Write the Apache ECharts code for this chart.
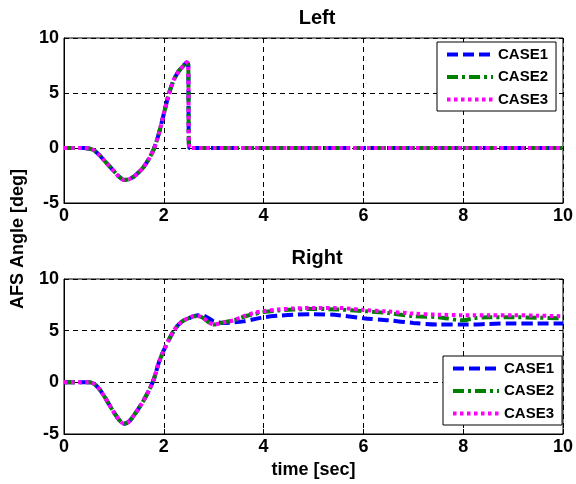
<!DOCTYPE html>
<html><head><meta charset="utf-8">
<script src="https://cdn.jsdelivr.net/npm/echarts@6/dist/echarts.min.js"></script>
<style>html,body{margin:0;padding:0;background:#fff}#c{width:576px;height:484px}</style>
</head><body><div id="c"></div>
<script>
const seriesNames = ['CASE1', 'CASE2', 'CASE3'];
const xTicks = [0, 2, 4, 6, 8, 10];
const yTicks = [-5, 0, 5, 10];

const tLeft = [0, 0.4, 0.5, 0.6, 0.7, 0.8, 0.9, 1.0, 1.1, 1.2, 1.3, 1.4, 1.5, 1.6, 1.7, 1.8, 1.9, 2.0, 2.1, 2.2, 2.3, 2.4, 2.46, 2.49, 2.51, 3, 4, 5, 6, 7, 8, 9, 10];
const left1 = [0, 0, -0.05, -0.2, -0.6, -1.1, -1.6, -2.1, -2.6, -2.9, -2.85, -2.6, -2.2, -1.7, -1.0, -0.1, 1.3, 3.1, 4.9, 6.2, 7.0, 7.5, 7.8, 7.6, 0, 0, 0, 0, 0, 0, 0, 0, 0];
const left2 = [0, 0, -0.05, -0.2, -0.6, -1.1, -1.6, -2.1, -2.6, -2.9, -2.85, -2.6, -2.2, -1.7, -1.0, -0.1, 1.3, 3.1, 4.9, 6.2, 7.0, 7.5, 7.8, 7.6, 0, 0, 0, 0, 0, 0, 0, 0, 0];
const left3 = [0, 0, -0.05, -0.2, -0.6, -1.1, -1.6, -2.1, -2.6, -2.9, -2.85, -2.6, -2.2, -1.7, -1.0, -0.1, 1.3, 3.1, 4.9, 6.2, 7.0, 7.5, 7.8, 7.6, 0, 0, 0, 0, 0, 0, 0, 0, 0];

const tRight = [0, 0.5, 0.6, 0.7, 0.8, 0.9, 1.0, 1.1, 1.2, 1.3, 1.4, 1.5, 1.6, 1.7, 1.8, 1.9, 2.0, 2.1, 2.2, 2.3, 2.4, 2.5, 2.6, 2.7, 2.8, 2.9, 3.0, 3.2, 3.4, 3.6, 3.8, 4.0, 4.3, 4.6, 5.0, 5.5, 6.0, 6.5, 7.0, 7.5, 8.0, 8.2, 8.5, 9.0, 9.5, 10];
const right1 = [0, 0, -0.15, -0.6, -1.3, -2.1, -2.9, -3.6, -4.0, -3.8, -3.2, -2.5, -1.7, -0.8, 0.3, 1.9, 3.1, 4.1, 5.0, 5.6, 6.0, 6.2, 6.4, 6.5, 6.45, 6.2, 5.9, 5.75, 5.8, 5.9, 6.1, 6.3, 6.45, 6.55, 6.6, 6.5, 6.2, 6.0, 5.75, 5.6, 5.6, 5.6, 5.65, 5.7, 5.7, 5.7];
const right2 = [0, 0, -0.15, -0.6, -1.3, -2.1, -2.9, -3.6, -4.0, -3.8, -3.2, -2.5, -1.7, -0.8, 0.3, 1.9, 3.1, 4.1, 5.0, 5.6, 6.0, 6.2, 6.4, 6.4, 6.2, 5.8, 5.6, 5.8, 6.0, 6.35, 6.6, 6.8, 6.95, 7.05, 7.1, 7.05, 6.9, 6.7, 6.4, 6.3, 6.0, 6.2, 6.3, 6.3, 6.25, 6.2];
const right3 = [0, 0, -0.15, -0.6, -1.3, -2.1, -2.9, -3.6, -4.0, -3.8, -3.2, -2.5, -1.7, -0.8, 0.3, 1.9, 3.1, 4.1, 5.0, 5.6, 6.0, 6.2, 6.4, 6.4, 6.2, 5.8, 5.6, 5.8, 6.0, 6.4, 6.7, 6.9, 7.05, 7.15, 7.2, 7.2, 7.0, 6.85, 6.65, 6.55, 6.5, 6.5, 6.5, 6.5, 6.45, 6.4];

const styles = [
  { color: '#0000ff', type: [11, 5] },
  { color: '#008000', type: [11, 4, 3, 4] },
  { color: '#ff00ff', type: [3.5, 3.5] }
];

const FONT = 'Liberation Sans, Arial, sans-serif';

function pairs(t, v) { return t.map((x, i) => [x, v[i]]); }

const chart = echarts.init(document.getElementById('c'), null, { renderer: 'canvas' });

function xAxisCfg(gi, withName) {
  return {
    type: 'value', gridIndex: gi, min: 0, max: 10, interval: 2,
    axisLine: { show: true, onZero: false, lineStyle: { color: '#000', width: 1 } },
    axisTick: { show: true, inside: true, length: 5, lineStyle: { color: '#000' } },
    axisLabel: { color: '#000', fontFamily: FONT, fontWeight: 'bold', fontSize: 18, margin: 4,
      formatter: v => xTicks.includes(v) ? String(v) : '' },
    splitLine: { show: true, lineStyle: { color: '#000', type: [5, 4], width: 1 } },
    name: withName ? 'time [sec]' : '', nameLocation: 'middle', nameGap: 27,
    nameTextStyle: { color: '#000', fontFamily: FONT, fontWeight: 'bold', fontSize: 18 }
  };
}
function yAxisCfg(gi) {
  return {
    type: 'value', gridIndex: gi, min: -5, max: 10, interval: 5,
    axisLine: { show: true, onZero: false, lineStyle: { color: '#000', width: 1 } },
    axisTick: { show: true, inside: true, length: 5, lineStyle: { color: '#000' } },
    axisLabel: { color: '#000', fontFamily: FONT, fontWeight: 'bold', fontSize: 18, margin: 5,
      formatter: v => yTicks.includes(v) ? String(v) : '' },
    splitLine: { show: true, lineStyle: { color: '#000', type: [5, 4], width: 1 } }
  };
}

const series = [];
const leftVals = [left1, left2, left3];
const rightVals = [right1, right2, right3];
for (let i = 0; i < 3; i++) {
  series.push({
    name: seriesNames[i], type: 'line', xAxisIndex: 0, yAxisIndex: 0,
    data: pairs(tLeft, leftVals[i]), symbol: 'none', smooth: 0.2, z: 3 + i,
    lineStyle: { color: styles[i].color, width: 4, type: styles[i].type, cap: 'butt' },
    itemStyle: { color: styles[i].color }
  });
}
for (let i = 0; i < 3; i++) {
  series.push({
    name: seriesNames[i], type: 'line', xAxisIndex: 1, yAxisIndex: 1,
    data: pairs(tRight, rightVals[i]), symbol: 'none', smooth: 0.3, z: 3 + i,
    lineStyle: { color: styles[i].color, width: 4, type: styles[i].type, cap: 'butt' },
    itemStyle: { color: styles[i].color }
  });
}

function legendCfg(left, top) {
  return {
    data: seriesNames, orient: 'vertical', left: left, top: top,
    itemWidth: 46, itemHeight: 14, itemGap: 7.5,
    backgroundColor: '#fff', borderColor: '#000', borderWidth: 1, borderRadius: 0,
    padding: [5, 8, 4, 8],
    itemStyle: { opacity: 0, borderWidth: 0 },
    lineStyle: { width: 4, cap: 'butt' },
    textStyle: { color: '#000', fontFamily: FONT, fontWeight: 'bold', fontSize: 15 },
    selectedMode: false, z: 10
  };
}

chart.setOption({
  animation: false,
  backgroundColor: '#fff',
  title: [
    { text: 'Left', left: 312, top: 3, textAlign: 'center',
      textStyle: { fontFamily: FONT, fontWeight: 'bold', fontSize: 20, color: '#000' } },
    { text: 'Right', left: 312, top: 243, textAlign: 'center',
      textStyle: { fontFamily: FONT, fontWeight: 'bold', fontSize: 20, color: '#000' } }
  ],
  grid: [
    { left: 64, top: 38, width: 502, height: 165, show: true, borderColor: '#000', borderWidth: 1, backgroundColor: '#fff' },
    { left: 64, top: 279, width: 502, height: 155, show: true, borderColor: '#000', borderWidth: 1, backgroundColor: '#fff' }
  ],
  xAxis: [xAxisCfg(0, false), xAxisCfg(1, true)],
  yAxis: [yAxisCfg(0), yAxisCfg(1)],
  legend: [legendCfg(437, 42), legendCfg(443, 356)],
  graphic: [
    { type: 'text', x: 9, y: 239, rotation: Math.PI / 2,
      style: { text: 'AFS Angle [deg]', fill: '#000', font: 'bold 18px ' + FONT, align: 'center', verticalAlign: 'top' } }
  ],
  series: series
});
</script></body></html>
